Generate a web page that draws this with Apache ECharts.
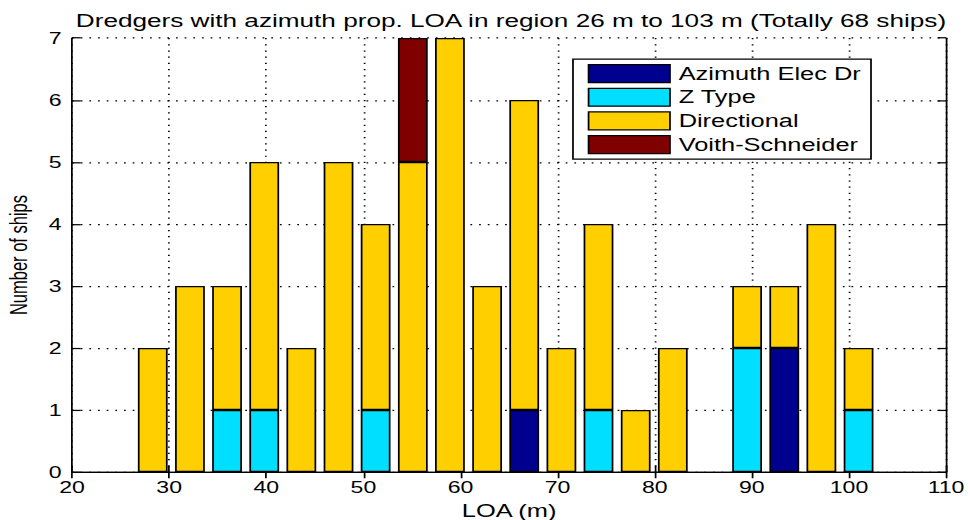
<!DOCTYPE html>
<html>
<head>
<meta charset="utf-8">
<script src="https://cdn.jsdelivr.net/npm/echarts@6/dist/echarts.min.js"></script>
<style>
  html { margin: 0; padding: 0; background: #fff; overflow: hidden; }
  body { margin: 0; padding: 0; background: #fff; width: 970px; height: 520px; }
  /* The figure is laid out on a 560x420 canvas and stretched to fill the 970x520 window */
  #chart { width: 560px; height: 420px; transform: scale(1.7321, 1.2381); transform-origin: 0 0; }
</style>
</head>
<body>
<div id="chart"></div>
<script>
// LOA histogram bin centres (m)
const loaBins = [28.31, 32.14, 35.96, 39.79, 43.61, 47.44, 51.26, 55.09, 58.91, 62.74,
                 66.56, 70.39, 74.21, 78.04, 81.86, 85.69, 89.51, 93.34, 97.16, 100.99];

// Ship counts per bin, by propulsion type
const azimuthElecDr  = [0, 0, 0, 0, 0, 0, 0, 0, 0, 0, 1, 0, 0, 0, 0, 0, 0, 2, 0, 0];
const zType          = [0, 0, 1, 1, 0, 0, 1, 0, 0, 0, 0, 0, 1, 0, 0, 0, 2, 0, 0, 1];
const directional    = [2, 3, 2, 4, 2, 5, 3, 5, 7, 3, 5, 2, 3, 1, 2, 0, 1, 1, 4, 1];
const voithSchneider = [0, 0, 0, 0, 0, 0, 0, 2, 0, 0, 0, 0, 0, 0, 0, 0, 0, 0, 0, 0];

const seriesNames  = ['Azimuth Elec Dr', 'Z Type', 'Directional', 'Voith-Schneider'];
const seriesValues = [azimuthElecDr, zType, directional, voithSchneider];
const seriesColors = ['#00008F', '#00DFFF', '#FFCF00', '#800000'];

// Axis ranges and tick steps
const xRange = { min: 20, max: 110, interval: 10 };
const yRange = { min: 0, max: 7, interval: 1 };

const titleText = 'Dredgers with azimuth prop. LOA in region 26 m to 103 m (Totally 68 ships)';
const xName = 'LOA (m)';
const yName = 'Number of ships';

const FONT = "'Liberation Sans', Helvetica, Arial, sans-serif";
const dotted = { color: '#000', width: 1, type: [1, 4] };

const chart = echarts.init(document.getElementById('chart'), null, { renderer: 'svg' });

// Rows are [count, loa] so the count column is the one that gets stacked;
// empty segments keep their place in the stack but are not drawn.
const series = seriesNames.map((name, s) => ({
  name,
  type: 'bar',
  stack: 'ships',
  barWidth: 17.2,
  encode: { x: 1, y: 0 },
  itemStyle: { color: seriesColors[s], borderColor: '#000', borderWidth: 1 },
  emphasis: { disabled: true },
  data: loaBins.map((x, i) => {
    const v = seriesValues[s][i];
    return v === 0 ? { value: [0, x], itemStyle: { borderWidth: 0, opacity: 0 } } : { value: [v, x] };
  })
}));

const boxAxis = {
  axisLine: { show: true, lineStyle: { color: '#000', width: 1 } },
  axisTick: { show: true, inside: true, length: 5, lineStyle: { color: '#000' } },
  axisLabel: { show: false },
  splitLine: { show: false }
};

chart.setOption({
  animation: false,
  backgroundColor: '#fff',
  title: {
    text: titleText,
    left: 290,
    top: 4,
    textAlign: 'center',
    textStyle: { fontFamily: FONT, fontSize: 15.1, fontWeight: 'normal', color: '#000' }
  },
  legend: {
    data: seriesNames,
    orient: 'vertical',
    left: 330.8,
    top: 47.7,
    padding: [4, 6, 4, 8.5],
    itemWidth: 47,
    itemHeight: 14.5,
    itemGap: 3.6,
    backgroundColor: '#fff',
    borderColor: '#000',
    borderWidth: 1,
    borderRadius: 0,
    selectedMode: false,
    icon: 'rect',
    itemStyle: { borderColor: '#000', borderWidth: 1, opacity: 1 },
    textStyle: { fontFamily: FONT, fontSize: 14.67, color: '#000' }
  },
  grid: {
    left: 41.6, right: 13.8, top: 30.7, bottom: 38.7,
    containLabel: false,
    outerBoundsMode: 'none'
  },
  xAxis: [
    {
      type: 'value', position: 'bottom', ...xRange,
      name: xName, nameLocation: 'middle', nameGap: 22,
      nameTextStyle: { fontFamily: FONT, fontSize: 14.67, color: '#000' },
      axisLine: { show: true, lineStyle: { color: '#000', width: 1 } },
      axisTick: { show: true, inside: true, length: 5, lineStyle: { color: '#000' } },
      axisLabel: { margin: 6, fontFamily: FONT, fontSize: 13.33, color: '#000' },
      splitLine: { show: true, lineStyle: dotted }
    },
    Object.assign({ type: 'value', position: 'top', ...xRange }, boxAxis)
  ],
  yAxis: [
    {
      type: 'value', position: 'left', ...yRange,
      name: yName, nameLocation: 'middle', nameGap: 22,
      nameTextStyle: { fontFamily: FONT, fontSize: 13.33, color: '#000' },
      axisLine: { show: true, lineStyle: { color: '#000', width: 1 } },
      axisTick: { show: true, inside: true, length: 5, lineStyle: { color: '#000' } },
      axisLabel: { margin: 6, fontFamily: FONT, fontSize: 13.33, color: '#000' },
      splitLine: { show: true, lineStyle: dotted }
    },
    Object.assign({ type: 'value', position: 'right', ...yRange }, boxAxis)
  ],
  series
});
</script>
</body>
</html>
